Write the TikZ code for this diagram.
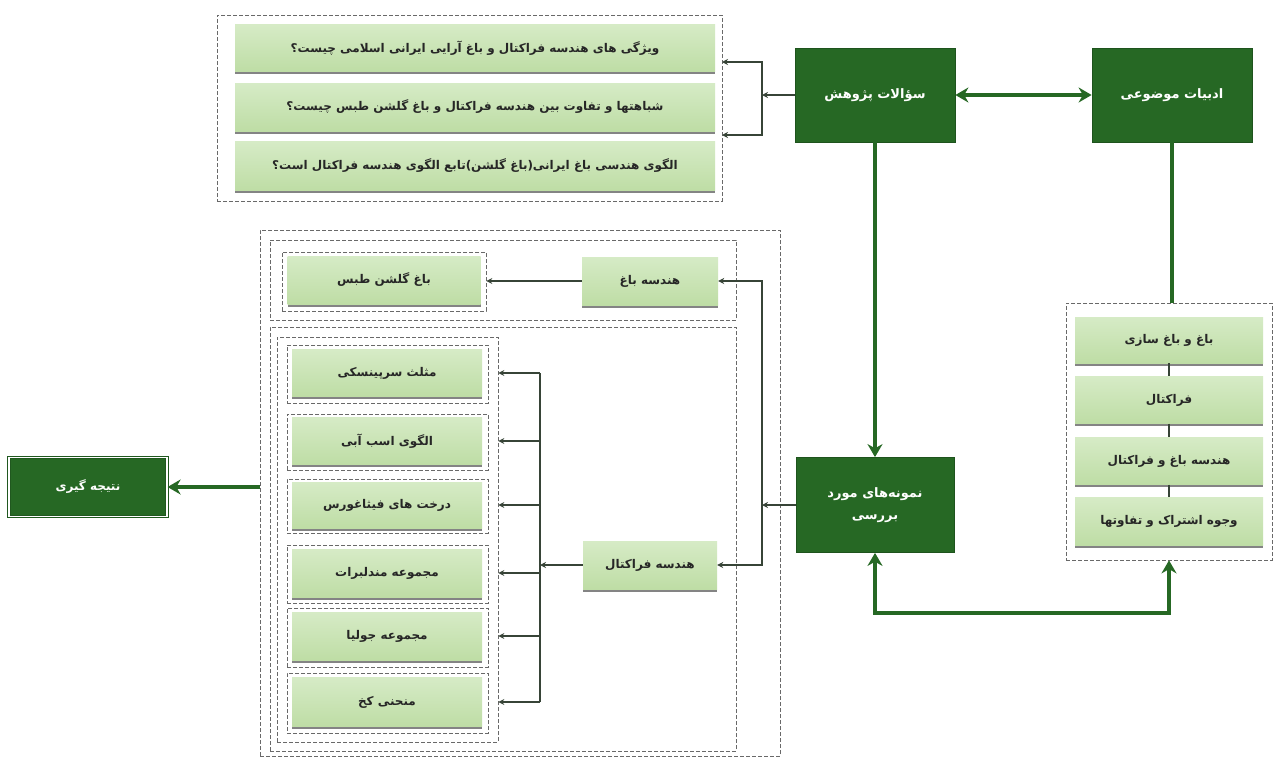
\documentclass[tikz,border=0pt]{standalone}
\usepackage{fontspec}
\newfontfamily\arabicfont[Script=Arabic]{DejaVu Sans}
\TeXXeTstate=1
\newcommand{\fat}[1]{{\arabicfont\beginR #1\endR}}
\usetikzlibrary{arrows.meta,fit,shadows}
\definecolor{dgreen}{RGB}{38,104,36}
\definecolor{lgtop}{RGB}{214,235,198}
\definecolor{lgbot}{RGB}{190,221,165}
\definecolor{frameg}{RGB}{105,105,105}
\definecolor{conn}{RGB}{55,68,55}
\begin{document}
\begin{tikzpicture}[x=1pt,y=-1pt,
  wh/.style 2 args={minimum width=#1pt,minimum height=#2pt,inner sep=0pt},
  darkbox/.style={rectangle,fill=dgreen,draw=dgreen!80!black,line width=0.8pt,text=white,
    font=\arabicfont\bfseries\fontsize{13}{22}\selectfont,align=center},
  lightbox/.style={rectangle,top color=lgtop,bottom color=lgbot,draw=none,text=black!85,
    drop shadow={shadow xshift=0pt,shadow yshift=-2.5pt,fill=black!60,opacity=0.8},
    font=\arabicfont\bfseries\fontsize{12}{14}\selectfont},
  frame/.style={draw=frameg,dash pattern=on 4pt off 2pt,line width=0.7pt,inner sep=0pt,fill=none},
  gline/.style={draw=dgreen,line width=4pt},
  garrow/.style={-{Stealth[length=13pt,width=15pt]}},
  conn/.style={draw=conn,line width=1.4pt,-{Stealth[length=6pt,width=6pt]}},
  conns/.style={draw=conn,line width=1.4pt}
]
\useasboundingbox (0,0) rectangle (1278,758);
\fill[white] (0,0) rectangle (1278,758);

% ---- research questions
\node[lightbox,wh={480}{47}] (q1) at (475,48) {\fat{ویژگی های هندسه فراکتال و باغ آرایی ایرانی اسلامی چیست؟}};
\node[lightbox,wh={480}{48}] (q2) at (475,107) {\fat{شباهتها و تفاوت بین هندسه فراکتال و باغ گلشن طبس چیست؟}};
\node[lightbox,wh={480}{49}] (q3) at (475,166) {\fat{الگوی هندسی باغ ایرانی(باغ گلشن)تابع الگوی هندسه فراکتال است؟}};
\node[frame,fit={(217,15) (722,201)}] (qframe) {};

% ---- dark boxes
\node[darkbox,wh={160}{94}] (sq) at (875,95) {\fat{سؤالات پژوهش}};
\node[darkbox,wh={160}{94}] (lit) at (1172,95) {\fat{ادبیات موضوعی}};
\node[darkbox,wh={158}{95}] (nm) at (875,505) {\fat{نمونه‌های مورد}\\\fat{بررسی}};

% ---- right literature stack
\node[lightbox,wh={188}{46}] (r1) at (1169,340) {\fat{باغ و باغ سازی}};
\node[lightbox,wh={188}{47}] (r2) at (1169,400) {\fat{فراکتال}};
\node[lightbox,wh={188}{47}] (r3) at (1169,461) {\fat{هندسه باغ و فراکتال}};
\node[lightbox,wh={188}{48}] (r4) at (1169,521) {\fat{وجوه اشتراک و تفاوتها}};
\node[frame,fit={(1066,303) (1272,560)}] (rframe) {};
\draw[conns,line width=2.2pt] (r1.south) -- (r2.north);
\draw[conns,line width=2.2pt] (r2.south) -- (r3.north);
\draw[conns,line width=2.2pt] (r3.south) -- (r4.north);

% ---- middle column
\node[frame,fit={(260,230) (780,756)}] (midframe) {};
\node[frame,fit={(270,240) (736,320)}] (upframe) {};
\node[frame,fit={(270,327) (736,751)}] (lowframe) {};

\node[lightbox,wh={136}{48}] (hb) at (650,281) {\fat{هندسه باغ}};
\node[lightbox,wh={193}{48}] (bg) at (384,280) {\fat{باغ گلشن طبس}};
\node[frame,fit={(282,252) (486,311)}] (bgframe) {};

\node[lightbox,wh={134}{48}] (hf) at (650,565) {\fat{هندسه فراکتال}};

\node[lightbox,wh={190}{47}] (i1) at (387,373) {\fat{مثلث سرپینسکی}};
\node[lightbox,wh={190}{47}] (i2) at (387,441) {\fat{الگوی اسب آبی}};
\node[lightbox,wh={190}{46}] (i3) at (387,505) {\fat{درخت های فیثاغورس}};
\node[lightbox,wh={190}{48}] (i4) at (387,573) {\fat{مجموعه مندلبرات}};
\node[lightbox,wh={190}{48}] (i5) at (387,636) {\fat{مجموعه جولیا}};
\node[lightbox,wh={190}{49}] (i6) at (387,702) {\fat{منحنی کخ}};
\node[frame,fit={(287,345) (488,403)}] (f1) {};
\node[frame,fit={(287,414) (488,470)}] (f2) {};
\node[frame,fit={(287,479) (488,533)}] (f3) {};
\node[frame,fit={(287,545) (488,603)}] (f4) {};
\node[frame,fit={(287,608) (488,667)}] (f5) {};
\node[frame,fit={(287,673) (488,733)}] (f6) {};
\node[frame,fit={(277,337) (498,742)}] (sixframe) {};

% ---- conclusion
\node[rectangle,fill=dgreen,draw=dgreen!85!black,line width=1.2pt,double=white,double distance=1.2pt,
  text=white,font=\arabicfont\bfseries\fontsize{12}{14}\selectfont,wh={158}{59}] (nt) at (88,487) {\fat{نتیجه گیری}};

% ---- thick green connectors
\draw[gline,{Stealth[length=13pt,width=15pt]}-{Stealth[length=13pt,width=15pt]}] (sq.east) -- (lit.west);
\draw[gline,garrow] (sq.south) -- (nm.north);
\draw[gline] (lit.south) -- (lit.south |- rframe.north);
\draw[gline,{Stealth[length=13pt,width=15pt]}-{Stealth[length=13pt,width=15pt]}]
  (nm.south) -- (nm.south |- 0,613) -| (rframe.south);
\draw[gline,garrow] (midframe.west |- nt.east) -- (nt.east);

% ---- thin connectors: questions bracket
\coordinate (bq) at (762,95);
\coordinate (qa) at (722,62);
\coordinate (qb) at (722,135);
\draw[conn] (sq.west) -- (bq);
\draw[conn] (bq) |- (qa);
\draw[conn] (bq) |- (qb);

% ---- thin connectors: samples bracket
\coordinate (bm) at (762,505);
\draw[conn] (nm.west) -- (bm);
\draw[conn] (bm) |- (hb.east);
\draw[conn] (bm) |- (hf.east);
\draw[conn] (hb.west) -- (bgframe.east |- hb.west);

% ---- thin connectors: fractal bracket
\coordinate (bf) at (540,565);
\draw[conn] (hf.west) -- (bf);
\draw[conns] (540,373) -- (540,702);
\foreach \i in {i1,i2,i3,i4,i5,i6}{
  \draw[conn] (540,0 |- \i.east) -- (sixframe.east |- \i.east);
}
\end{tikzpicture}
\end{document}
